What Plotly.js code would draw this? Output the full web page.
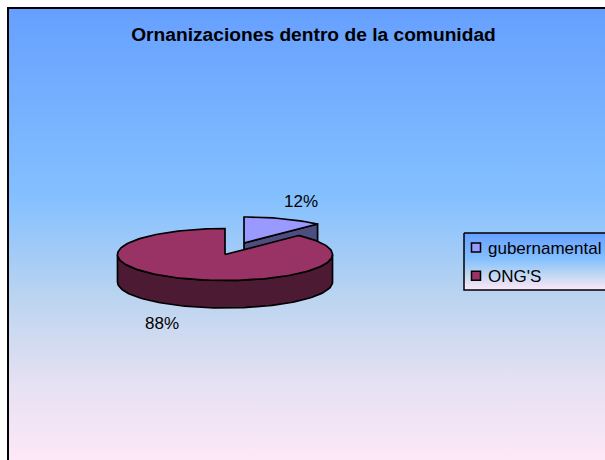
<!DOCTYPE html>
<html><head><meta charset="utf-8">
<script src="https://cdn.plot.ly/plotly-3.0.1.min.js"></script>
<style>html,body{margin:0;padding:0;background:#fff;overflow:hidden}#c{width:605px;height:460px}</style>
</head><body><div id="c"></div>
<script>
const categories = ["gubernamental", "ONG'S"];
const values = [12, 88];
const topColors = ["#9999FF", "#993366"];
const sideColors = ["#4D4D80", "#4D1A33"];
const chartTitle = "Ornanizaciones dentro de la comunidad";

const total = values[0] + values[1];
const rx = 107.5, ry = 26, depth = 27.5;
const mainC = [225, 254.5], gubC = [244, 243];
const gubEnd = 360 * values[0] / total;
const rad = d => d * Math.PI / 180;
const pt = (c, a, dy = 0) => [c[0] + rx * Math.sin(rad(a)), c[1] - ry * Math.cos(rad(a)) + dy];
function arc(c, a0, a1, dy = 0) {
  const out = [], n = Math.max(2, Math.ceil(Math.abs(a1 - a0) / 2));
  for (let i = 0; i <= n; i++) out.push(pt(c, a0 + (a1 - a0) * i / n, dy));
  return out;
}
function poly(points, fill, extra) {
  return Object.assign({
    x: points.map(p => p[0]), y: points.map(p => p[1]), mode: 'lines', fill: 'toself',
    fillcolor: fill, line: {color: '#000', width: 1.7}, showlegend: false, hoverinfo: 'skip'
  }, extra || {});
}
function grad(y0, y1, stops) {
  return {type: 'vertical', start: y0, stop: y1, colorscale: stops};
}
const bgStops = [[0, '#FDE8F8'], [0.18, '#E4E0F2'], [0.36, '#BBD4F0'], [0.58, '#84C0FF'], [1, '#66A0FF']];
const boxStops = [[0, '#FDE8F8'], [0.3, '#B9D5F2'], [0.55, '#84BFFF'], [1, '#66A0FF']];

const traces = [
  {x: [9, 605, 605, 9, 9], y: [8, 8, 460, 460, 8], mode: 'lines', fill: 'toself', line: {width: 0},
   fillgradient: grad(460, 8, bgStops), showlegend: false, hoverinfo: 'skip'},
  {x: [8, 8, 605], y: [460, 8, 8], mode: 'lines', line: {color: '#000', width: 2}, showlegend: false, hoverinfo: 'skip'},
  {x: [464, 612, 612, 464, 464], y: [233, 233, 290, 290, 233], mode: 'lines', fill: 'toself',
   line: {color: '#000', width: 1.5}, fillgradient: grad(290, 233, boxStops), showlegend: false, hoverinfo: 'skip'},
  poly([gubC, pt(gubC, gubEnd), pt(gubC, gubEnd, depth), [gubC[0], gubC[1] + depth], gubC], sideColors[0]),
  poly([gubC, ...arc(gubC, 0, gubEnd), gubC], topColors[0]),
  poly([...arc(mainC, 90, 270), ...arc(mainC, 270, 90, depth)].concat([pt(mainC, 90)]), sideColors[1]),
  poly([mainC, ...arc(mainC, gubEnd, 360), mainC], topColors[1]),
  ...categories.map((name, i) => ({
    x: [null], y: [null], name, mode: 'markers', legendgroup: name,
    marker: {symbol: 'square', size: 9, color: topColors[i], line: {color: '#000', width: 1.5}}
  }))
];

const layout = {
  width: 605, height: 460, margin: {l: 0, r: 0, t: 0, b: 0, autoexpand: false},
  paper_bgcolor: '#fff', plot_bgcolor: 'rgba(0,0,0,0)',
  font: {family: 'Liberation Sans, Arial, sans-serif', color: '#000', size: 17},
  title: {text: '<b>' + chartTitle + '</b>', x: 313.5 / 605, y: 1 - 34 / 460, xanchor: 'center', yanchor: 'middle',
          xref: 'paper', yref: 'paper', font: {size: 19.2, color: '#000'}},
  xaxis: {range: [0, 605], visible: false, fixedrange: true},
  yaxis: {range: [460, 0], visible: false, fixedrange: true},
  legend: {x: 448 / 605, y: 1 - 230 / 460, xanchor: 'left', yanchor: 'top', bgcolor: 'rgba(0,0,0,0)',
           borderwidth: 0, itemwidth: 30, tracegroupgap: 3, font: {size: 17}, itemclick: false, itemdoubleclick: false,
           entrywidth: 118, entrywidthmode: 'pixels'},
  annotations: [
    {x: 301, y: 201, text: values[0] + '%', showarrow: false, xref: 'x', yref: 'y'},
    {x: 162, y: 323, text: values[1] + '%', showarrow: false, xref: 'x', yref: 'y'}
  ],
  hovermode: false
};
Plotly.newPlot('c', traces, layout, {displayModeBar: false}).then(() => {
  document.querySelectorAll('.legend .legendsymbols').forEach(g => g.setAttribute('transform', 'translate(8,0)'));
});
</script></body></html>
